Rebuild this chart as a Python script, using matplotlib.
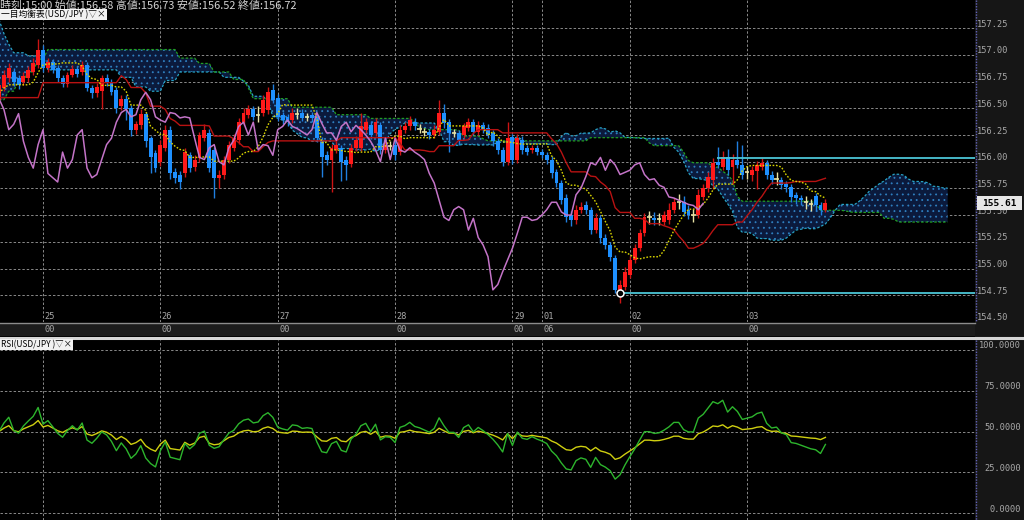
import numpy as np
import pandas as pd
import matplotlib
matplotlib.use("Agg")
import matplotlib.pyplot as plt
from matplotlib.patches import Rectangle
from matplotlib.lines import Line2D

plt.rcParams['font.family'] = ['Noto Sans CJK JP', 'DejaVu Sans']
plt.rcParams['hatch.color'] = '#2f7fc0'
plt.rcParams['hatch.linewidth'] = 0.6

# ---------------- data (hourly USD/JPY) ----------------
opens = [156.58,156.69,156.78,156.84,156.78,156.75,156.78,156.84,156.91,157.05,
         156.88,156.93,156.88,156.78,156.73,156.81,156.87,156.84,156.91,156.69,
         156.64,156.66,156.78,156.74,156.67,156.52,156.59,156.50,156.30,156.34,
         156.45,156.22,156.08,156.00,156.13,156.30,155.90,155.88,155.89,156.06,
         155.95,156.03,156.22,156.27,156.11,155.85,155.88,156.02,156.13,156.20,
         156.37,156.44,156.49,156.44,156.46,156.48,156.67,156.60,156.44,156.42,
         156.39,156.45,156.46,156.42,156.44,156.42,156.20,156.06,156.02,156.11,
         156.13,156.02,155.98,156.13,156.13,156.30,156.34,156.27,156.34,156.11,
         156.15,156.16,156.09,156.30,156.33,156.37,156.31,156.28,156.28,156.25,
         156.28,156.46,156.37,156.27,156.27,156.25,156.32,156.37,156.28,156.34,
         156.32,156.27,156.19,156.11,156.00,156.23,156.02,156.20,156.13,156.11,
         156.13,156.09,156.06,156.02,155.90,155.80,155.66,155.50,155.45,155.55,
         155.59,155.55,155.36,155.47,155.29,155.22,155.10,154.80,154.83,154.94,
         155.08,155.19,155.33,155.48,155.47,155.46,155.44,155.45,155.55,155.62,
         155.62,155.55,155.50,155.50,155.67,155.75,155.83,156.00,155.95,156.04,
         155.95,156.02,155.97,155.90,155.88,155.91,155.95,155.99,155.88,155.84,
         155.83,155.79,155.76,155.69,155.66,155.62,155.60,155.68,155.59,155.55]
highs = [156.76,156.86,156.92,156.88,156.81,156.84,156.90,156.97,157.15,157.09,
         156.97,156.96,156.91,156.81,156.84,156.91,156.90,156.94,156.93,156.72,
         156.74,156.81,156.82,156.77,156.70,156.62,156.62,156.53,156.38,156.49,
         156.47,156.24,156.11,156.20,156.34,156.33,155.94,155.91,156.13,156.09,
         156.06,156.28,156.35,156.31,156.14,155.92,156.05,156.19,156.26,156.41,
         156.50,156.53,156.52,156.52,156.62,156.70,156.73,156.63,156.47,156.45,
         156.50,156.50,156.49,156.46,156.47,156.45,156.23,156.10,156.17,156.20,
         156.16,156.05,156.17,156.24,156.46,156.41,156.38,156.41,156.37,156.20,
         156.19,156.19,156.34,156.37,156.43,156.41,156.35,156.32,156.31,156.34,
         156.58,156.54,156.40,156.31,156.30,156.36,156.41,156.40,156.38,156.37,
         156.35,156.30,156.22,156.14,156.37,156.26,156.26,156.24,156.16,156.16,
         156.16,156.12,156.09,156.05,155.93,155.83,155.70,155.54,155.59,155.62,
         155.63,155.58,155.52,155.50,155.32,155.25,155.13,154.89,155.01,155.12,
         155.23,155.37,155.52,155.54,155.53,155.52,155.54,155.61,155.66,155.70,
         155.68,155.59,155.56,155.74,155.79,155.90,156.03,156.14,156.10,156.12,
         156.07,156.19,156.16,155.96,155.96,156.01,156.03,156.02,155.91,155.90,
         155.86,155.82,155.79,155.72,155.69,155.68,155.65,155.71,155.62,155.65]
lows = [156.52,156.66,156.75,156.71,156.68,156.72,156.75,156.81,156.88,156.84,
        156.84,156.83,156.75,156.70,156.70,156.79,156.79,156.81,156.66,156.60,
        156.61,156.49,156.71,156.62,156.46,156.48,156.39,156.24,156.26,156.31,
        156.14,155.89,155.90,155.96,156.10,155.84,155.80,155.74,155.86,155.90,
        155.91,156.00,156.19,155.90,155.66,155.75,155.84,155.99,156.10,156.17,
        156.34,156.41,156.39,156.37,156.43,156.45,156.55,156.38,156.35,156.33,
        156.36,156.40,156.38,156.38,156.37,156.18,155.86,155.97,155.72,156.08,
        155.82,155.83,155.95,156.10,156.10,156.27,156.21,156.24,156.07,156.08,
        156.11,156.02,156.06,156.27,156.30,156.30,156.27,156.24,156.21,156.22,
        156.25,156.32,156.09,156.23,156.16,156.22,156.29,156.25,156.25,156.27,
        156.22,156.15,156.07,155.96,155.97,155.98,155.99,156.07,156.06,156.08,
        156.06,156.03,155.98,155.85,155.76,155.60,155.44,155.40,155.42,155.52,
        155.51,155.32,155.33,155.24,155.18,155.07,154.77,154.68,154.80,154.91,
        155.05,155.16,155.30,155.42,155.41,155.41,155.41,155.42,155.52,155.56,
        155.49,155.46,155.44,155.47,155.64,155.72,155.74,155.94,155.92,155.88,
        155.79,155.94,155.84,155.84,155.82,155.74,155.92,155.84,155.79,155.78,
        155.74,155.72,155.62,155.60,155.59,155.56,155.54,155.54,155.50,155.53]
closes = [156.72,156.81,156.88,156.75,156.72,156.80,156.86,156.92,157.05,156.88,
          156.93,156.86,156.78,156.73,156.81,156.87,156.82,156.91,156.69,156.64,
          156.70,156.78,156.74,156.65,156.50,156.59,156.49,156.30,156.35,156.45,
          156.19,156.04,155.94,156.16,156.30,155.89,155.85,155.81,156.09,155.94,
          156.02,156.25,156.30,155.94,155.85,155.88,156.02,156.16,156.22,156.37,
          156.46,156.49,156.42,156.44,156.58,156.65,156.58,156.42,156.39,156.37,
          156.46,156.45,156.41,156.42,156.41,156.22,156.04,156.02,156.13,156.16,
          156.00,155.97,156.13,156.20,156.33,156.37,156.25,156.37,156.11,156.16,
          156.15,156.06,156.30,156.33,156.39,156.33,156.31,156.28,156.25,156.30,
          156.46,156.36,156.27,156.27,156.20,156.33,156.37,156.28,156.34,156.30,
          156.25,156.19,156.11,156.00,156.22,156.02,156.22,156.11,156.09,156.13,
          156.09,156.06,156.02,155.89,155.80,155.64,155.48,155.45,155.55,155.58,
          155.55,155.36,155.47,155.29,155.22,155.11,154.80,154.85,154.97,155.08,
          155.19,155.33,155.48,155.48,155.45,155.46,155.50,155.55,155.62,155.62,
          155.53,155.50,155.50,155.69,155.75,155.86,155.99,155.97,156.04,155.92,
          156.02,155.97,155.88,155.90,155.92,155.97,155.99,155.88,155.83,155.84,
          155.78,155.76,155.67,155.66,155.64,155.62,155.60,155.59,155.55,155.61]

# indicator values before the visible history has enough bars (value, number of bars)
span_a_early_runs = [(157.33, 1), (157.20, 1), (157.10, 1), (157.02, 3), (156.99, 4),
                     (156.86, 15), (156.79, 3), (156.70, 3), (156.66, 3), (156.76, 3),
                     (156.84, 9), (156.79, 4)]
span_b_early_runs = [(156.58, 2), (156.66, 2), (156.76, 2), (156.84, 2), (156.96, 2),
                     (157.05, 27), (156.97, 4), (156.92, 3), (156.84, 4), (156.77, 3),
                     (156.69, 1), (156.59, 8), (156.51, 9), (156.44, 7)]
kijun_early_runs = [(156.60, 9), (156.74, 16)]

tick_pos = [9, 33, 57, 81, 105, 111, 129, 153]
tick_day = ['25', '26', '27', '28', '29', '01', '02', '03']
tick_hour = ['00', '00', '00', '00', '00', '06', '00', '00']
price_ticks = [157.25, 157.00, 156.75, 156.50, 156.25, 156.00, 155.75, 155.50, 155.25, 155.00, 154.75, 154.50]
rsi_ticks = [100, 75, 50, 25, 0]
last_price = 155.61
high_line = 156.03
low_line = 154.77
low_index = 127
high_line_start = 146.8
header = "時刻:15:00 始値:156.58 高値:156.73 安値:156.52 終値:156.72"

# ---------------- indicators ----------------
n = len(closes)
idx = np.arange(n)
o = np.array(opens); h = np.array(highs); l = np.array(lows); c = np.array(closes)
Hs = pd.Series(highs); Ls = pd.Series(lows)
tenkan = ((Hs.rolling(9, min_periods=1).max() + Ls.rolling(9, min_periods=1).min()) / 2).values
kijun = ((Hs.rolling(26, min_periods=1).max() + Ls.rolling(26, min_periods=1).min()) / 2).values
span_b_raw = ((Hs.rolling(52, min_periods=1).max() + Ls.rolling(52, min_periods=1).min()) / 2).values
SHIFT = 25


def expand(runs):
    out = []
    for v, k in runs:
        out += [v] * k
    return out


ke = expand(kijun_early_runs)
kijun = np.array([ke[i] if i < len(ke) else kijun[i] for i in range(n)])
ea = expand(span_a_early_runs)
eb = expand(span_b_early_runs)
K = n + SHIFT
kx = np.arange(K)
span_a = np.array([ea[k] if k < len(ea) else (tenkan[k - SHIFT] + kijun[k - SHIFT]) / 2 for k in range(K)])
span_b = np.array([eb[k] if k < len(eb) else span_b_raw[k - SHIFT] for k in range(K)])


def rsi(vals, period, seed=0.03):
    g = lo = seed
    out = [50.0]
    for a, b in zip(vals[:-1], vals[1:]):
        d = b - a
        g = (g * (period - 1) + max(d, 0)) / period
        lo = (lo * (period - 1) + max(-d, 0)) / period
        out.append(100 * g / (g + lo))
    return np.array(out)


rsi_fast = rsi(closes, 14)
rsi_slow = rsi(closes, 36)

# ---------------- figure ----------------
W, Hpx = 1024, 520
fig = plt.figure(figsize=(W / 100, Hpx / 100), dpi=100, facecolor='black')


def fx(px):
    return px / W


def fy(px):
    return 1 - px / Hpx


X0 = 1 / 4.89
X1 = 976 / 4.89
YTOP = 156 + 161.7 / 106.8
YBOT = 156 - 160.3 / 106.8

ax = fig.add_axes([0, fy(322), fx(975), 322 / Hpx])
ax.set_facecolor('black')
ax.set_xlim(X0, X1)
ax.set_ylim(YBOT, YTOP)
ax.axis('off')

ax2 = fig.add_axes([0, 0, fx(975), (520 - 340) / Hpx])
ax2.set_facecolor('black')
ax2.set_xlim(X0, X1)
r_top = 100 + 10 / 1.63
r_bot = 0 - 7 / 1.63
ax2.set_ylim(r_bot, r_top)
ax2.axis('off')

grid_kw = dict(color='#8a8a8a', lw=0.7, linestyle=(0, (2.5, 2)), zorder=0.5)
for t in tick_pos:
    ax.axvline(t, **grid_kw)
    ax2.axvline(t, **grid_kw)
for p in price_ticks:
    ax.axhline(p, **grid_kw)
for r in rsi_ticks:
    ax2.axhline(r, **grid_kw)

# cloud
ax.fill_between(kx, span_a, span_b, facecolor='#0b1a3c', edgecolor='#2f7fc0',
                hatch='...', linewidth=0, zorder=1)
ax.plot(kx, span_a, color='#27a3c4', lw=0.9, linestyle=(0, (2, 1.5)), zorder=2)
ax.plot(kx, span_b, color='#22a022', lw=0.9, linestyle=(0, (2, 1.5)), zorder=2)

# candles
up = c > o + 0.004
dn = c < o - 0.004
dj = ~(up | dn)
ax.vlines(idx[up], l[up], h[up], color='#cc1414', lw=1, zorder=3)
ax.bar(idx[up], (c - o)[up], bottom=o[up], width=0.8, color='#ff1a1a', linewidth=0, zorder=3.5)
ax.vlines(idx[dn], l[dn], h[dn], color='#1f7fe0', lw=1, zorder=3)
ax.bar(idx[dn], (c - o)[dn], bottom=o[dn], width=0.8, color='#1e90ff', linewidth=0, zorder=3.5)
ax.vlines(idx[dj], l[dj], h[dj], color='#e8e2a4', lw=1, zorder=3)
ax.hlines(c[dj], idx[dj] - 0.45, idx[dj] + 0.45, color='#e8e2a4', lw=1.2, zorder=3.5)

# lines
ax.plot(idx, kijun, color='#b81212', lw=1.0, zorder=4)
ax.plot(idx, tenkan, color='#d8d400', lw=1.0, linestyle=(0, (1.2, 1.2)), zorder=4)
ax.plot(idx - SHIFT, c, color='#c474c8', lw=1.1, zorder=4)

ax.hlines(high_line, high_line_start, X1, color='#4cc6d6', lw=1.3, zorder=4)
ax.hlines(low_line, low_index, X1, color='#4cc6d6', lw=1.3, zorder=4)
ax.plot([low_index], [low_line], 'o', ms=5, mfc='black', mec='white', mew=1.1, zorder=6)

# RSI
ax2.plot(idx, rsi_slow, color='#cfcf10', lw=1.0, zorder=3)
ax2.plot(idx, rsi_fast, color='#2db52d', lw=1.0, zorder=4)

# ---------------- frame pieces ----------------
fig.add_artist(Rectangle((fx(975), fy(337)), fx(49), 337 / Hpx, transform=fig.transFigure,
                         facecolor='#161616', edgecolor='none', zorder=0))
fig.add_artist(Rectangle((fx(975), 0), fx(49), fy(340), transform=fig.transFigure,
                         facecolor='#161616', edgecolor='none', zorder=0))
fig.add_artist(Rectangle((0, fy(336)), fx(975), 13 / Hpx, transform=fig.transFigure,
                         facecolor='#1c1c1c', edgecolor='none', zorder=1))
fig.add_artist(Line2D([0, fx(975)], [fy(322.8), fy(322.8)], transform=fig.transFigure,
                      color='#8c8c8c', lw=1.0, zorder=2))
fig.add_artist(Line2D([0, 1], [fy(338), fy(338)], transform=fig.transFigure,
                      color='#d6d6d6', lw=2.2, zorder=2))
for y0, y1 in [(0, 322), (340, 520)]:
    fig.add_artist(Line2D([fx(975.5), fx(975.5)], [fy(y0), fy(y1)], transform=fig.transFigure,
                          color='#6262b8', lw=1.0, linestyle=(0, (1, 1)), zorder=5))

lab_kw = dict(color='#a9a9a9', fontsize=6.2, family=['DejaVu Sans Mono'])


def ypix(axis, v):
    return axis.transData.transform((X0, v))[1]


for p in price_ticks:
    yp = ypix(ax, p)
    fig.text(fx(977), (yp + 1.5) / Hpx, f"{p:.2f}", ha='left', va='baseline', **lab_kw)
for r in rsi_ticks:
    yp = ypix(ax2, r)
    fig.text(fx(1021), (yp + 1.5) / Hpx, f"{r:.4f}", ha='right', va='baseline', **lab_kw)

for t, d, hh in zip(tick_pos, tick_day, tick_hour):
    xp = ax.transData.transform((t, YBOT))[0]
    fig.text((xp + 1.5) / W, fy(319), d, ha='left', va='baseline', **lab_kw)
    fig.text((xp + 1.5) / W, fy(332), hh, ha='left', va='baseline', **lab_kw)

# current price box
yp = ypix(ax, last_price)
fig.add_artist(Rectangle((fx(977), (yp - 7) / Hpx), fx(45), 14 / Hpx, transform=fig.transFigure,
                         facecolor='#e6e6e6', edgecolor='none', zorder=6))
fig.text(fx(999.5), yp / Hpx, f"{last_price:.2f}", ha='center', va='center', color='black',
         fontsize=6.8, fontweight='bold', family=['DejaVu Sans Mono'], zorder=7)

# header texts
fig.text(fx(0), fy(5.5), header, ha='left', va='center', color='#d4d4d4', fontsize=7.9, zorder=7)
fig.text(fx(1), fy(14.5), "一目均衡表(USD/JPY )▽×", ha='left', va='center', color='black',
         fontsize=6.3, zorder=7,
         bbox=dict(boxstyle='square,pad=0.12', facecolor='#f2f2f2', edgecolor='none'))
fig.text(fx(1), fy(344.5), "RSI(USD/JPY )▽×", ha='left', va='center', color='black',
         fontsize=6.0, zorder=7,
         bbox=dict(boxstyle='square,pad=0.12', facecolor='#f2f2f2', edgecolor='none'))

fig.savefig('out.png', dpi=100, facecolor='black')
